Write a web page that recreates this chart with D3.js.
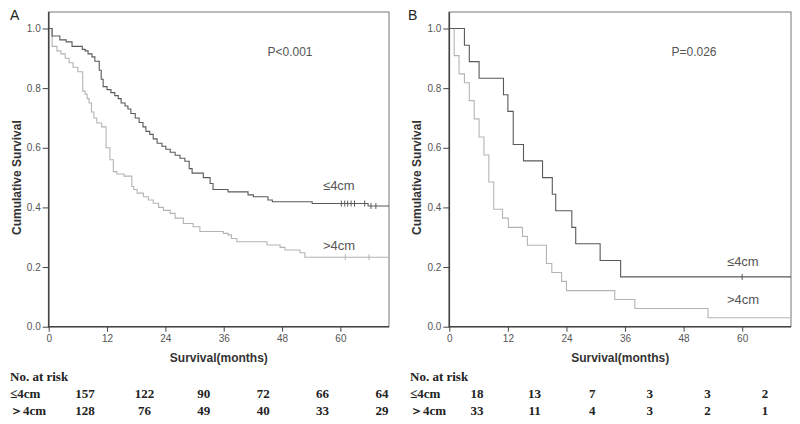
<!DOCTYPE html>
<html><head><meta charset="utf-8">
<script src="https://cdn.jsdelivr.net/npm/d3@7"></script>
<style>body{margin:0;background:#fff} svg{display:block}</style>
</head><body>
<svg id="c" width="800" height="424"></svg>
<script>
// ---------- data ----------
const xTicks = [0, 12, 24, 36, 48, 60];
const yTicks = [0, 0.2, 0.4, 0.6, 0.8, 1.0];
const groupLabels = ["≤4cm", ">4cm"];
const tableLabels = ["≤4cm", "＞4cm"];

// Panel A, ≤4cm (event times, survival after event)
const aSmallT = [0.7,2.3,3.6,4.8,6.9,7.5,8.1,8.9,9.5,10.4,10.8,11.2,12.0,12.8,13.6,14.3,14.9,15.7,16.3,16.9,17.8,18.6,19.4,20.0,20.8,21.5,22.3,23.3,24.1,25.0,26.0,27.0,28.0,28.9,29.5,31.8,33.2,33.8,36.9,41.0,42.1,45.1,46.0,54.2,65.7];
const aSmallS = [0.975,0.962,0.955,0.94,0.93,0.925,0.915,0.905,0.89,0.86,0.83,0.805,0.795,0.785,0.775,0.765,0.75,0.74,0.73,0.715,0.70,0.685,0.67,0.655,0.645,0.63,0.615,0.605,0.595,0.585,0.575,0.565,0.555,0.53,0.515,0.50,0.48,0.46,0.452,0.442,0.436,0.425,0.419,0.413,0.405];
const aSmallCens = [60.2,60.9,61.5,62.2,62.9,65.0,66.3,67.3];

// Panel A, >4cm
const aLargeT = [0.7,1.7,2.5,3.4,4.2,5.0,6.0,7.0,7.5,7.9,8.3,8.8,9.3,9.9,10.9,11.8,12.6,13.3,14.0,15.5,17.1,17.5,18.2,19.5,20.5,21.5,22.6,23.6,25.0,26.0,27.7,29.7,31.1,35.9,36.9,37.6,38.7,44.9,47.6,48.6,51.7,52.7];
const aLargeS = [0.94,0.925,0.915,0.90,0.885,0.87,0.855,0.79,0.78,0.765,0.75,0.72,0.70,0.683,0.67,0.60,0.56,0.52,0.512,0.505,0.47,0.46,0.448,0.436,0.425,0.414,0.40,0.39,0.38,0.364,0.346,0.335,0.319,0.313,0.308,0.296,0.285,0.274,0.266,0.257,0.248,0.233];
const aLargeCens = [61.0, 65.9];

// Panel B, ≤4cm
const bSmallT = [3.1,4.1,6.1,11.1,12.0,13.1,15.2,19.1,21.1,21.8,25.1,25.9,30.9,35.1];
const bSmallS = [0.944,0.889,0.833,0.778,0.722,0.611,0.556,0.50,0.444,0.389,0.333,0.278,0.222,0.167];
const bSmallCens = [60];

// Panel B, >4cm
const bLargeT = [1.0,2.0,3.1,4.1,5.1,6.1,7.1,8.1,9.1,10.9,12.1,15.0,16.0,19.9,21.0,23.0,24.0,33.9,38.0,53.0];
const bLargeS = [0.909,0.848,0.818,0.758,0.697,0.636,0.576,0.485,0.394,0.364,0.333,0.303,0.273,0.212,0.182,0.152,0.121,0.091,0.061,0.030];
const bLargeCens = [];

const pA = "P<0.001", pB = "P=0.026";
const riskA_small = [157,122,90,72,66,64];
const riskA_large = [128,76,49,40,33,29];
const riskB_small = [18,13,7,3,3,2];
const riskB_large = [33,11,4,3,2,1];

// ---------- drawing ----------
const svg = d3.select("#c");
const SANS = "'Liberation Sans', Arial, sans-serif";
const SERIF = "'Liberation Serif', 'Times New Roman', serif";
const DARK = "#5a5a5a", LIGHT = "#b4b4b4";

function panel(cfg) {
  const x = d3.scaleLinear().domain([0, 70]).range([cfg.left, cfg.right]);
  const y = d3.scaleLinear().domain([0, 1]).range([326.7, 28.5]);
  const g = svg.append("g");
  // frame (top & right)
  g.append("rect").attr("x", cfg.left).attr("y", 12)
    .attr("width", cfg.right - cfg.left).attr("height", 326.7 - 12)
    .attr("fill", "none").attr("stroke", "#777").attr("stroke-width", 1);

  // curves
  const line = d3.line().x(d => x(d[0])).y(d => y(d[1])).curve(d3.curveStepAfter);
  cfg.series.forEach(s => {
    const pts = [[0, 1]].concat(s.t.map((t, i) => [t, s.s[i]]));
    pts.push([70, s.s[s.s.length - 1]]);
    g.append("path").attr("d", line(pts)).attr("fill", "none")
      .attr("stroke", s.color).attr("stroke-width", 1.1);
    const survAt = t => { let v = 1; s.t.forEach((tt, i) => { if (tt <= t) v = s.s[i]; }); return v; };
    g.selectAll(null).data(s.cens).enter().append("line")
      .attr("x1", d => x(d)).attr("x2", d => x(d))
      .attr("y1", d => y(survAt(d)) - 3).attr("y2", d => y(survAt(d)) + 3)
      .attr("stroke", s.color).attr("stroke-width", 1);
  });

  // axes
  const ax = g.append("g").attr("transform", `translate(0,326.7)`)
    .call(d3.axisBottom(x).tickValues(xTicks).tickSize(5).tickPadding(3).tickFormat(d3.format("d")));
  const ay = g.append("g").attr("transform", `translate(${cfg.left},0)`)
    .call(d3.axisLeft(y).tickValues(yTicks).tickSize(6).tickPadding(2).tickFormat(d3.format(".1f")));
  [ax, ay].forEach(a => {
    a.select(".domain").remove();
    a.selectAll("line").attr("stroke", "#444");
    a.selectAll("text").attr("fill", "#555").style("font-family", SANS).style("font-size", "10px");
  });
  g.append("line").attr("x1", cfg.left).attr("x2", cfg.left).attr("y1", 12).attr("y2", 327.5)
    .attr("stroke", "#444").attr("stroke-width", 1.6);
  g.append("line").attr("x1", cfg.left).attr("x2", cfg.right).attr("y1", 326.7).attr("y2", 326.7)
    .attr("stroke", "#444").attr("stroke-width", 1.6);

  // titles
  g.append("text").attr("x", (cfg.left + cfg.right) / 2).attr("y", 362)
    .attr("text-anchor", "middle").style("font-family", SANS).style("font-weight", "bold")
    .style("font-size", "12px").attr("fill", "#333").text("Survival(months)");
  g.append("text").attr("transform", `translate(${cfg.ytx},177.6) rotate(-90)`)
    .attr("text-anchor", "middle").attr("dy", "0.35em").style("font-family", SANS).style("font-weight", "bold")
    .style("font-size", "12px").attr("fill", "#333").text("Cumulative Survival");
  g.append("text").attr("x", cfg.letterX).attr("y", 20).style("font-family", SANS)
    .style("font-size", "14px").attr("fill", "#222").text(cfg.letter);
  g.append("text").attr("x", cfg.pX).attr("y", 56).attr("text-anchor", "middle")
    .style("font-family", SANS).style("font-size", "12px").attr("fill", "#555").text(cfg.p);
  cfg.labels.forEach((l, i) => {
    g.append("text").attr("x", cfg.labX).attr("y", l).style("font-family", SANS)
      .style("font-size", "13px").attr("fill", "#555").text(groupLabels[i]);
  });

  // risk table
  const tx = d3.scalePoint().domain(xTicks).range(cfg.tableRange);
  g.append("text").attr("x", cfg.tableLeft).attr("y", 381).style("font-family", SERIF)
    .style("font-weight", "bold").style("font-size", "13px").attr("fill", "#222").text("No. at risk");
  [cfg.risk[0], cfg.risk[1]].forEach((row, r) => {
    const yy = 398 + r * 17;
    g.append("text").attr("x", cfg.tableLeft).attr("y", yy).style("font-family", SERIF)
      .style("font-weight", "bold").style("font-size", "13px").attr("fill", "#222").text(tableLabels[r]);
    g.selectAll(null).data(row).enter().append("text")
      .attr("x", (d, i) => tx(xTicks[i])).attr("y", yy).attr("text-anchor", "middle")
      .style("font-family", SERIF).style("font-weight", "bold").style("font-size", "13px")
      .attr("fill", "#222").text(d => d);
  });
}

panel({
  left: 48.7, right: 389, ytx: 16.5, letter: "A", letterX: 10, p: pA, pX: 290,
  labX: 323, labels: [190, 250], tableLeft: 10, tableRange: [85, 382],
  risk: [riskA_small, riskA_large],
  series: [
    { t: aLargeT, s: aLargeS, cens: aLargeCens, color: LIGHT },
    { t: aSmallT, s: aSmallS, cens: aSmallCens, color: DARK }
  ]
});
panel({
  left: 449.3, right: 791, ytx: 417, letter: "B", letterX: 408, p: pB, pX: 694,
  labX: 727, labels: [266, 304], tableLeft: 410, tableRange: [477, 765],
  risk: [riskB_small, riskB_large],
  series: [
    { t: bLargeT, s: bLargeS, cens: bLargeCens, color: LIGHT },
    { t: bSmallT, s: bSmallS, cens: bSmallCens, color: DARK }
  ]
});
</script>
</body></html>
